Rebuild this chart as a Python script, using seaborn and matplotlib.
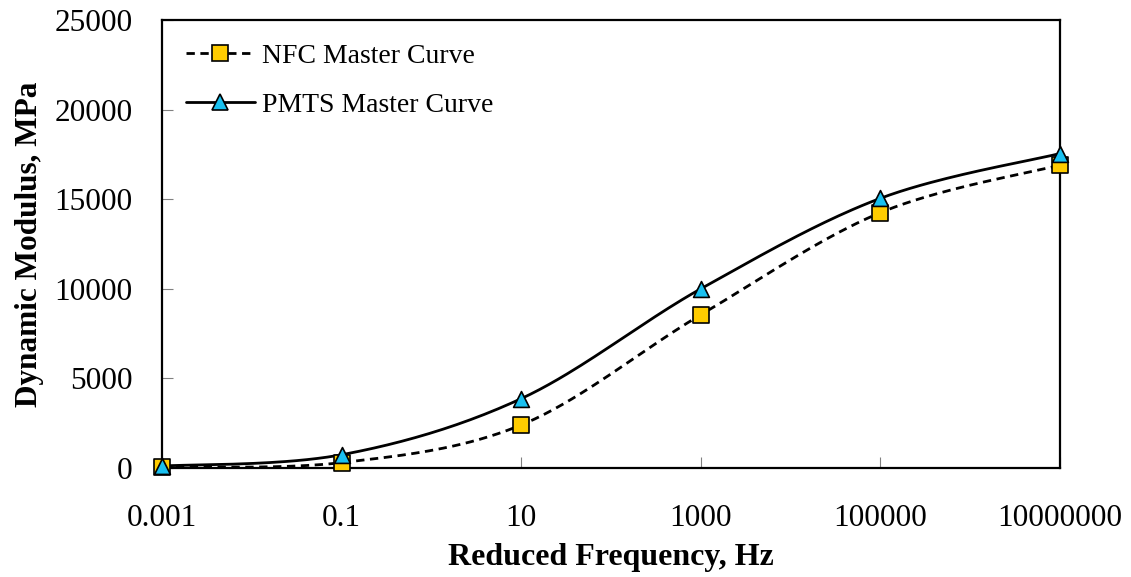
"""Dynamic modulus master curves: NFC vs PMTS."""

import matplotlib

matplotlib.use("Agg")

import matplotlib.pyplot as plt
import numpy as np
import pandas as pd
import seaborn as sns
from matplotlib.lines import Line2D

FREQ = [0.001, 0.1, 10, 1000, 100000, 10000000]
FREQ_LABELS = ["0.001", "0.1", "10", "1000", "100000", "10000000"]
NFC = [60, 300, 2400, 8550, 14250, 16900]
PMTS = [110, 740, 3870, 10000, 15050, 17550]

SERIES = ["NFC Master Curve", "PMTS Master Curve"]
YTICKS = [0, 5000, 10000, 15000, 20000, 25000]


def _smooth(x, y, n=40):
    """Excel-like smoothed line (Catmull-Rom through the points, in log-x)."""
    lx = np.log10(np.asarray(x, dtype=float))
    y = np.asarray(y, dtype=float)
    px = np.concatenate([[lx[0]], lx, [lx[-1]]])
    py = np.concatenate([[y[0]], y, [y[-1]]])
    xs, ys = [], []
    t = np.linspace(0, 1, n)
    for i in range(1, len(px) - 2):
        p0, p1, p2, p3 = (np.array([px[j], py[j]]) for j in range(i - 1, i + 3))
        c1 = p1 + (p2 - p0) / 6
        c2 = p2 - (p3 - p1) / 6
        seg = (
            ((1 - t) ** 3)[:, None] * p1
            + (3 * (1 - t) ** 2 * t)[:, None] * c1
            + (3 * (1 - t) * t**2)[:, None] * c2
            + (t**3)[:, None] * p2
        )
        xs.extend(seg[:, 0])
        ys.extend(seg[:, 1])
    return 10 ** np.array(xs), np.array(ys)


def main() -> None:
    sns.set_theme(style="white")
    plt.rcParams.update(
        {
            "font.family": ["Liberation Serif", "DejaVu Serif"],
            "axes.linewidth": 1.6,
            "axes.edgecolor": "black",
            "text.color": "black",
            "axes.labelcolor": "black",
            "xtick.color": "black",
            "ytick.color": "black",
        }
    )

    fig = plt.figure(figsize=(11.31, 5.77), dpi=100)
    ax = fig.add_axes([0.1432, 0.1889, 0.7940, 0.7764])

    styles = {
        SERIES[0]: dict(ls=(0, (3, 2)), marker="s", fc="#FFCC00"),
        SERIES[1]: dict(ls="-", marker="^", fc="#19C0F0"),
    }

    for name, vals in zip(SERIES, [NFC, PMTS]):
        st = styles[name]
        sx, sy = _smooth(FREQ, vals)
        curve = pd.DataFrame({"f": sx, "E": sy})
        sns.lineplot(
            data=curve, x="f", y="E", ax=ax, color="black",
            linewidth=2.0, linestyle=st["ls"], sort=False, estimator=None,
        )
        pts = pd.DataFrame({"f": FREQ, "E": vals})
        sns.scatterplot(
            data=pts, x="f", y="E", ax=ax, marker=st["marker"], s=130,
            color=st["fc"], edgecolor="black", linewidth=1.2, zorder=5,
            clip_on=False,
        )

    ax.set_xscale("log")
    ax.set_xlim(FREQ[0], FREQ[-1])
    ax.set_xticks(FREQ)
    ax.set_xticklabels(FREQ_LABELS)
    ax.minorticks_off()
    ax.set_ylim(0, 25000)
    ax.set_yticks(YTICKS)
    ax.set_yticklabels([str(v) for v in YTICKS])

    ax.tick_params(axis="x", direction="in", length=8, width=0.8,
                   color="#808080", labelcolor="black", labelsize=22.5,
                   pad=26, bottom=True)
    ax.tick_params(axis="y", direction="in", length=8, width=0.8,
                   color="#808080", labelcolor="black", labelsize=22.5,
                   pad=21, left=True)

    ax.set_xlabel("Reduced Frequency, Hz", fontsize=23, fontweight="bold",
                  labelpad=7)
    ax.set_ylabel("Dynamic Modulus, MPa", fontsize=22.5, fontweight="bold",
                  labelpad=8)

    handles = [
        Line2D([], [], color="black", lw=2.0, ls=styles[n]["ls"],
               marker=styles[n]["marker"], markersize=11,
               markerfacecolor=styles[n]["fc"], markeredgecolor="black",
               markeredgewidth=1.2)
        for n in SERIES
    ]
    ax.legend(handles, SERIES, loc="upper left", bbox_to_anchor=(0.0, 1.0),
              frameon=False, fontsize=20, handlelength=2.5,
              labelspacing=0.85, handletextpad=0.25, borderaxespad=0.45)

    fig.savefig("out.png", dpi=100)
    plt.close(fig)


if __name__ == "__main__":
    main()
